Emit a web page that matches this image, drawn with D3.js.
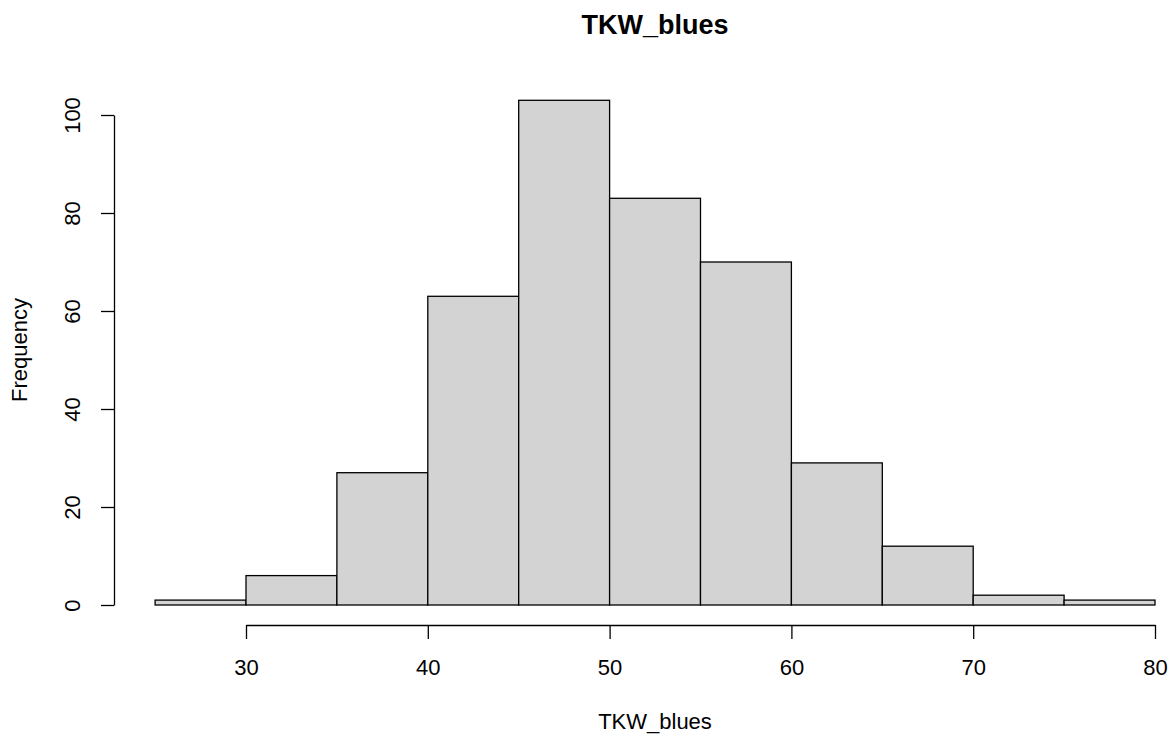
<!DOCTYPE html>
<html>
<head>
<meta charset="utf-8">
<script src="https://cdn.jsdelivr.net/npm/d3@7"></script>
<style>
  body { margin: 0; background: #fff; }
  text { font-family: "Liberation Sans", Arial, sans-serif; fill: #000; }
</style>
</head>
<body>
<svg id="chart" width="1174" height="739"></svg>
<script>
// histogram of TKW_blues, bins of width 5
var binStarts = [25, 30, 35, 40, 45, 50, 55, 60, 65, 70, 75];
var binWidth = 5;
var counts = [1, 6, 27, 63, 103, 83, 70, 29, 12, 2, 1];
var xTicks = [30, 40, 50, 60, 70, 80];
var yTicks = [0, 20, 40, 60, 80, 100];

var svg = d3.select("#chart");

var x = d3.scaleLinear().domain([30, 80]).range([246, 1155]);
var y = d3.scaleLinear().domain([0, 100]).range([605, 115]);

// bars
svg.append("g")
  .selectAll("rect")
  .data(counts)
  .enter().append("rect")
  .attr("x", function(d, i) { return x(binStarts[i]); })
  .attr("y", function(d) { return y(d); })
  .attr("width", function(d, i) { return x(binStarts[i] + binWidth) - x(binStarts[i]); })
  .attr("height", function(d) { return y(0) - y(d); })
  .attr("fill", "#d3d3d3")
  .attr("stroke", "#000")
  .attr("stroke-width", 1.3);

// x axis
var xAxis = svg.append("g")
  .attr("transform", "translate(0,625)")
  .call(d3.axisBottom(x).tickValues(xTicks).tickSize(14).tickSizeOuter(0));
xAxis.select(".domain").attr("stroke-width", 1.3);
xAxis.selectAll(".tick line").attr("stroke-width", 1.3);
xAxis.selectAll(".tick text")
  .attr("font-size", 22)
  .attr("font-family", "Liberation Sans, Arial, sans-serif")
  .attr("fill", "#000")
  .attr("dy", null)
  .attr("y", 50);

// y axis
var yAxis = svg.append("g")
  .attr("transform", "translate(114,0)")
  .call(d3.axisLeft(y).tickValues(yTicks).tickSize(13).tickSizeOuter(0));
yAxis.select(".domain").attr("stroke-width", 1.3);
yAxis.selectAll(".tick line").attr("stroke-width", 1.3);
yAxis.selectAll(".tick text")
  .attr("font-size", 22)
  .attr("font-family", "Liberation Sans, Arial, sans-serif")
  .attr("fill", "#000")
  .attr("x", null).attr("dy", null)
  .attr("text-anchor", "middle")
  .attr("transform", "translate(-34,0) rotate(-90)");

// titles
svg.append("text")
  .attr("x", 655).attr("y", 34)
  .attr("text-anchor", "middle")
  .attr("font-size", 27).attr("font-weight", "bold")
  .text("TKW_blues");

svg.append("text")
  .attr("x", 655).attr("y", 729)
  .attr("text-anchor", "middle")
  .attr("font-size", 22)
  .text("TKW_blues");

svg.append("text")
  .attr("transform", "translate(27,350) rotate(-90)")
  .attr("text-anchor", "middle")
  .attr("font-size", 22)
  .text("Frequency");
</script>
</body>
</html>
